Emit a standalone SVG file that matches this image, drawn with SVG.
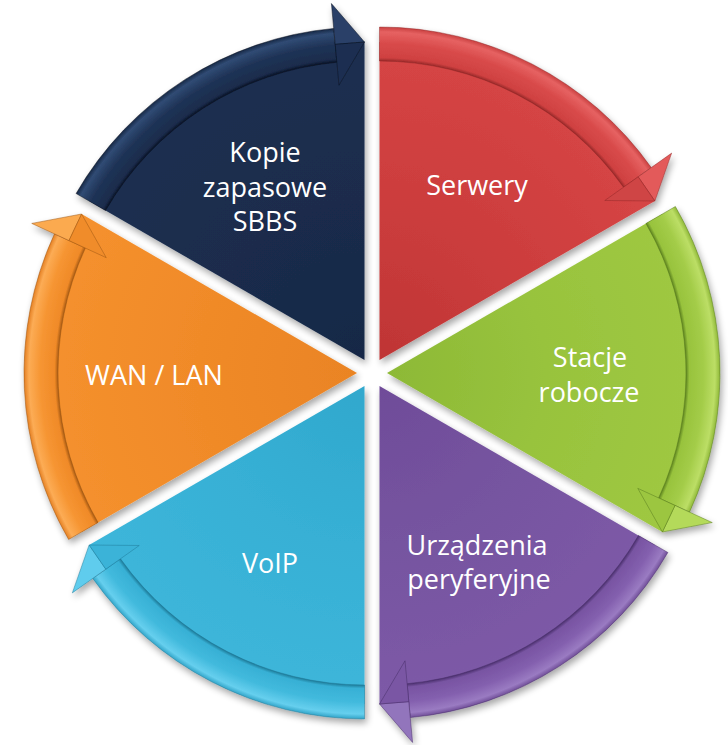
<svg xmlns="http://www.w3.org/2000/svg" xmlns:xlink="http://www.w3.org/1999/xlink" width="728" height="745" viewBox="0 0 728 745">
  <style>
    .lbl { font-family: "Open Sans", "Liberation Sans", sans-serif; font-size: 27px; fill: #ffffff; text-anchor: middle; }
    .edge { stroke-width: 0.8; stroke-opacity: 0.55; stroke-linejoin: round; }
  </style>
  <defs>
    <filter id="shadow" x="-15%" y="-15%" width="130%" height="130%">
      <feGaussianBlur in="SourceAlpha" stdDeviation="3.5"/>
      <feOffset dx="2" dy="4" result="b"/>
      <feComponentTransfer><feFuncA type="linear" slope="0.35"/></feComponentTransfer>
      <feMerge><feMergeNode/><feMergeNode in="SourceGraphic"/></feMerge>
    </filter>

    <!-- segment geometry in a local frame: apex at origin, spanning 0..60 deg clockwise from top -->
    <path id="pBody" d="M0,0 L0,-318 A318,318 0 0 1 275.39,-159 Z"/>
    <path id="pBand" d="M0,-333 A333,333 0 0 1 271.76,-192.44 L244.01,-172.79 A299,299 0 0 0 0,-299 Z"/>
    <path id="pHeadA" d="M292.16,-206.89 L275.39,-159 L258.70,-183.19 Z"/>
    <path id="pHeadB" d="M225.24,-159.5 L275.39,-159 L258.70,-183.19 Z"/>

    <!-- band shading: dark inner rim, lighter bevel toward outer rim -->
    <radialGradient id="bandRed" gradientUnits="userSpaceOnUse" cx="0" cy="0" r="333">
      <stop offset="0.898" stop-color="#9a2a2a"/><stop offset="0.908" stop-color="#cf4141"/>
      <stop offset="0.95" stop-color="#d84a4a"/><stop offset="0.985" stop-color="#e66262"/><stop offset="1" stop-color="#c94040"/>
    </radialGradient>
    <radialGradient id="bandGreen" gradientUnits="userSpaceOnUse" cx="0" cy="0" r="333">
      <stop offset="0.898" stop-color="#5f8520"/><stop offset="0.908" stop-color="#98c33d"/>
      <stop offset="0.95" stop-color="#a3cc48"/><stop offset="0.985" stop-color="#bcde66"/><stop offset="1" stop-color="#8fb838"/>
    </radialGradient>
    <radialGradient id="bandPurple" gradientUnits="userSpaceOnUse" cx="0" cy="0" r="333">
      <stop offset="0.898" stop-color="#4c316f"/><stop offset="0.908" stop-color="#7854a2"/>
      <stop offset="0.95" stop-color="#835fae"/><stop offset="0.985" stop-color="#9a7bc2"/><stop offset="1" stop-color="#704e98"/>
    </radialGradient>
    <radialGradient id="bandCyan" gradientUnits="userSpaceOnUse" cx="0" cy="0" r="333">
      <stop offset="0.898" stop-color="#1f7d9b"/><stop offset="0.908" stop-color="#37b0d5"/>
      <stop offset="0.95" stop-color="#42badd"/><stop offset="0.985" stop-color="#66cfee"/><stop offset="1" stop-color="#31a4c8"/>
    </radialGradient>
    <radialGradient id="bandOrange" gradientUnits="userSpaceOnUse" cx="0" cy="0" r="333">
      <stop offset="0.898" stop-color="#a85b14"/><stop offset="0.908" stop-color="#f08a28"/>
      <stop offset="0.95" stop-color="#f69532"/><stop offset="0.985" stop-color="#fcac55"/><stop offset="1" stop-color="#e47f22"/>
    </radialGradient>
    <radialGradient id="bandNavy" gradientUnits="userSpaceOnUse" cx="0" cy="0" r="333">
      <stop offset="0.898" stop-color="#0a1428"/><stop offset="0.908" stop-color="#1a2c4c"/>
      <stop offset="0.95" stop-color="#1f3356"/><stop offset="0.985" stop-color="#304b74"/><stop offset="1" stop-color="#172845"/>
    </radialGradient>

    <!-- body shading -->
    <radialGradient id="bodyRed" gradientUnits="userSpaceOnUse" cx="0" cy="0" r="318">
      <stop offset="0" stop-color="#bf3535"/><stop offset="0.5" stop-color="#cc3d3d"/><stop offset="1" stop-color="#d64545"/>
    </radialGradient>
    <radialGradient id="bodyGreen" gradientUnits="userSpaceOnUse" cx="0" cy="0" r="318">
      <stop offset="0" stop-color="#8db936"/><stop offset="0.5" stop-color="#98c33d"/><stop offset="1" stop-color="#9fc842"/>
    </radialGradient>
    <radialGradient id="bodyPurple" gradientUnits="userSpaceOnUse" cx="0" cy="0" r="318">
      <stop offset="0" stop-color="#6f4c99"/><stop offset="0.5" stop-color="#7654a0"/><stop offset="1" stop-color="#7d5aa7"/>
    </radialGradient>
    <radialGradient id="bodyCyan" gradientUnits="userSpaceOnUse" cx="0" cy="0" r="318">
      <stop offset="0" stop-color="#30a8cd"/><stop offset="0.5" stop-color="#37b0d5"/><stop offset="1" stop-color="#3db6da"/>
    </radialGradient>
    <radialGradient id="bodyOrange" gradientUnits="userSpaceOnUse" cx="0" cy="0" r="318">
      <stop offset="0" stop-color="#ea8424"/><stop offset="0.5" stop-color="#f08a28"/><stop offset="1" stop-color="#f5912e"/>
    </radialGradient>
    <radialGradient id="bodyNavy" gradientUnits="userSpaceOnUse" cx="0" cy="0" r="318">
      <stop offset="0" stop-color="#172846"/><stop offset="0.5" stop-color="#1a2c4c"/><stop offset="1" stop-color="#1c2f50"/>
    </radialGradient>
  </defs>

  <!-- Serwery -->
  <g id="seg-serwery">
    <g filter="url(#shadow)">
      <g transform="translate(372,373) rotate(0) translate(7.5,-12.99)">
        <use href="#pBody" fill="url(#bodyRed)"/>
        <use href="#pBand" fill="url(#bandRed)" class="edge" stroke="#8a2424"/>
        <use href="#pHeadA" fill="#e35a5a" class="edge" stroke="#8a2424"/>
        <use href="#pHeadB" fill="#cf4444" class="edge" stroke="#8a2424"/>
      </g>
    </g>
    <text class="lbl" x="477" y="195">Serwery</text>
  </g>

  <!-- Stacje robocze -->
  <g id="seg-stacje">
    <g filter="url(#shadow)">
      <g transform="translate(372,373) rotate(60) translate(7.5,-12.99)">
        <use href="#pBody" fill="url(#bodyGreen)"/>
        <use href="#pBand" fill="url(#bandGreen)" class="edge" stroke="#577a1c"/>
        <use href="#pHeadA" fill="#b4da5a" class="edge" stroke="#577a1c"/>
        <use href="#pHeadB" fill="#9cc640" class="edge" stroke="#577a1c"/>
      </g>
    </g>
    <text class="lbl" x="590" y="367">Stacje</text>
    <text class="lbl" x="589" y="402">robocze</text>
  </g>

  <!-- Urządzenia peryferyjne -->
  <g id="seg-urzadzenia">
    <g filter="url(#shadow)">
      <g transform="translate(372,373) rotate(120) translate(7.5,-12.99)">
        <use href="#pBody" fill="url(#bodyPurple)"/>
        <use href="#pBand" fill="url(#bandPurple)" class="edge" stroke="#452c66"/>
        <use href="#pHeadA" fill="#9274bc" class="edge" stroke="#452c66"/>
        <use href="#pHeadB" fill="#7a57a4" class="edge" stroke="#452c66"/>
      </g>
    </g>
    <text class="lbl" x="477" y="555">Urządzenia</text>
    <text class="lbl" x="479" y="589">peryferyjne</text>
  </g>

  <!-- VoIP -->
  <g id="seg-voip">
    <g filter="url(#shadow)">
      <g transform="translate(372,373) rotate(180) translate(7.5,-12.99)">
        <use href="#pBody" fill="url(#bodyCyan)"/>
        <use href="#pBand" fill="url(#bandCyan)" class="edge" stroke="#1c7290"/>
        <use href="#pHeadA" fill="#5ecced" class="edge" stroke="#1c7290"/>
        <use href="#pHeadB" fill="#3ab3d8" class="edge" stroke="#1c7290"/>
      </g>
    </g>
    <text class="lbl" x="270" y="573">VoIP</text>
  </g>

  <!-- WAN / LAN -->
  <g id="seg-wanlan">
    <g filter="url(#shadow)">
      <g transform="translate(372,373) rotate(240) translate(7.5,-12.99)">
        <use href="#pBody" fill="url(#bodyOrange)"/>
        <use href="#pBand" fill="url(#bandOrange)" class="edge" stroke="#9a5412"/>
        <use href="#pHeadA" fill="#fbaa50" class="edge" stroke="#9a5412"/>
        <use href="#pHeadB" fill="#f08c2a" class="edge" stroke="#9a5412"/>
      </g>
    </g>
    <text class="lbl" x="154" y="385">WAN / LAN</text>
  </g>

  <!-- Kopie zapasowe SBBS -->
  <g id="seg-kopie">
    <g filter="url(#shadow)">
      <g transform="translate(372,373) rotate(300) translate(7.5,-12.99)">
        <use href="#pBody" fill="url(#bodyNavy)"/>
        <use href="#pBand" fill="url(#bandNavy)" class="edge" stroke="#08101f"/>
        <use href="#pHeadA" fill="#2a4068" class="edge" stroke="#08101f"/>
        <use href="#pHeadB" fill="#1c2f51" class="edge" stroke="#08101f"/>
      </g>
    </g>
    <text class="lbl" x="265" y="162">Kopie</text>
    <text class="lbl" x="265" y="196.5">zapasowe</text>
    <text class="lbl" x="265" y="231">SBBS</text>
  </g>
</svg>
